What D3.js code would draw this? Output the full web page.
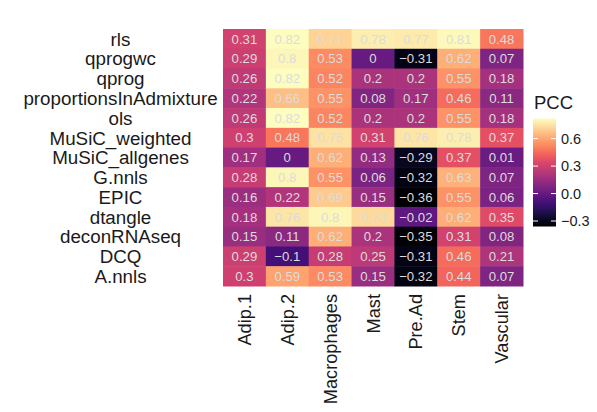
<!DOCTYPE html>
<html>
<head>
<meta charset="utf-8">
<script src="https://cdn.jsdelivr.net/npm/d3@7"></script>
<style>
  html, body { margin: 0; padding: 0; background: #fff; }
  svg { display: block; font-family: "Liberation Sans", Arial, Helvetica, sans-serif; }
</style>
</head>
<body>
<svg id="chart" width="597" height="412"></svg>
<script>
// Deconvolution methods (rows, top to bottom)
const methods = ["rls", "qprogwc", "qprog", "proportionsInAdmixture", "ols",
  "MuSiC_weighted", "MuSiC_allgenes", "G.nnls", "EPIC", "dtangle",
  "deconRNAseq", "DCQ", "A.nnls"];

// Cell types (columns)
const cellTypes = ["Adip.1", "Adip.2", "Macrophages", "Mast", "Pre.Ad", "Stem", "Vascular"];

// Pearson correlation per cell type, in method order
const adip1       = [0.31, 0.29, 0.26, 0.22, 0.26, 0.3, 0.17, 0.28, 0.16, 0.18, 0.15, 0.29, 0.3];
const adip2       = [0.82, 0.8, 0.82, 0.66, 0.82, 0.48, 0, 0.8, 0.22, 0.76, 0.11, -0.1, 0.59];
const macrophages = [0.71, 0.53, 0.52, 0.55, 0.52, 0.75, 0.62, 0.55, 0.69, 0.8, 0.62, 0.28, 0.53];
const mast        = [0.78, 0, 0.2, 0.08, 0.2, 0.31, 0.13, 0.06, 0.15, 0.73, 0.2, 0.25, 0.15];
const preAd       = [0.77, -0.31, 0.2, 0.17, 0.2, 0.76, -0.29, -0.32, -0.36, -0.02, -0.35, -0.31, -0.32];
const stem        = [0.81, 0.62, 0.55, 0.46, 0.55, 0.78, 0.37, 0.63, 0.55, 0.62, 0.31, 0.46, 0.44];
const vascular    = [0.48, 0.07, 0.18, 0.11, 0.18, 0.37, 0.01, 0.07, 0.06, 0.35, 0.08, 0.21, 0.07];

// Legend ticks
const legendTicks = [-0.3, 0.0, 0.3, 0.6];
const legendTitle = "PCC";

const series = [adip1, adip2, macrophages, mast, preAd, stem, vascular];

const cells = [];
cellTypes.forEach((ct, j) => {
  methods.forEach((m, i) => {
    cells.push({ method: m, cellType: ct, value: series[j][i] });
  });
});

const svg = d3.select("#chart");

// Panel geometry
const panel = { left: 223, right: 523, top: 29, bottom: 286 };

const x = d3.scaleBand().domain(cellTypes).range([panel.left, panel.right]).padding(0);
const y = d3.scaleBand().domain(methods).range([panel.top, panel.bottom]).padding(0);

const vmin = d3.min(cells, d => d.value);
const vmax = d3.max(cells, d => d.value);
const color = d3.scaleSequential(d3.interpolateMagma).domain([vmin, vmax]);

const fmt = v => String(v).replace("-", "\u2212");

// Tiles
svg.append("g").selectAll("rect")
  .data(cells)
  .join("rect")
  .attr("x", d => x(d.cellType))
  .attr("y", d => y(d.method))
  .attr("width", x.bandwidth() + 0.5)
  .attr("height", y.bandwidth() + 0.5)
  .attr("fill", d => color(d.value));

// Value labels
svg.append("g").selectAll("text")
  .data(cells)
  .join("text")
  .attr("x", d => x(d.cellType) + x.bandwidth() / 2)
  .attr("y", d => y(d.method) + y.bandwidth() / 2)
  .attr("dy", "0.36em")
  .attr("text-anchor", "middle")
  .attr("font-size", 13.2)
  .attr("fill", "#dcdcdc")
  .text(d => fmt(d.value));

// Row axis (method names, centred)
const yAxis = d3.axisLeft(y).tickSize(0).tickPadding(0);
const gy = svg.append("g").attr("transform", "translate(120.5,0)").call(yAxis);
gy.select(".domain").remove();
gy.selectAll("text")
  .attr("text-anchor", "middle")
  .attr("x", 0)
  .attr("dy", "0.36em")
  .attr("font-size", 18.8)
  .attr("font-family", null)
  .attr("fill", "#1a1a1a");

// Column axis (cell types, rotated)
const xAxis = d3.axisBottom(x).tickSize(0).tickPadding(0);
const gx = svg.append("g").attr("transform", `translate(0,${panel.bottom})`).call(xAxis);
gx.select(".domain").remove();
gx.selectAll("text")
  .attr("transform", "rotate(-90)")
  .attr("text-anchor", "end")
  .attr("x", -8)
  .attr("y", 0)
  .attr("dy", "0.36em")
  .attr("font-size", 18.2)
  .attr("font-family", null)
  .attr("fill", "#1a1a1a");

// Colour bar legend
const bar = { x: 533, w: 23, top: 118.5, bottom: 226.5 };
const ly = d3.scaleLinear().domain([vmin, vmax]).range([bar.bottom, bar.top]);

const defs = svg.append("defs");
const grad = defs.append("linearGradient")
  .attr("id", "pcc-grad")
  .attr("x1", 0).attr("y1", 1).attr("x2", 0).attr("y2", 0);
d3.range(0, 1.0001, 0.05).forEach(t => {
  grad.append("stop")
    .attr("offset", t)
    .attr("stop-color", color(vmin + t * (vmax - vmin)));
});

svg.append("rect")
  .attr("x", bar.x).attr("y", bar.top)
  .attr("width", bar.w).attr("height", bar.bottom - bar.top)
  .attr("fill", "url(#pcc-grad)");

const lg = svg.append("g");
lg.selectAll("line.l")
  .data(legendTicks)
  .join("line")
  .attr("class", "l")
  .attr("x1", bar.x).attr("x2", bar.x + 5)
  .attr("y1", d => ly(d)).attr("y2", d => ly(d))
  .attr("stroke", "#fff").attr("stroke-width", 1);
lg.selectAll("line.r")
  .data(legendTicks)
  .join("line")
  .attr("class", "r")
  .attr("x1", bar.x + bar.w - 5).attr("x2", bar.x + bar.w)
  .attr("y1", d => ly(d)).attr("y2", d => ly(d))
  .attr("stroke", "#fff").attr("stroke-width", 1);
lg.selectAll("text")
  .data(legendTicks)
  .join("text")
  .attr("x", bar.x + bar.w + 5)
  .attr("y", d => ly(d))
  .attr("dy", "0.36em")
  .attr("font-size", 14.5)
  .attr("fill", "#1a1a1a")
  .text(d => d3.format(".1f")(d).replace("-", "\u2212"));

svg.append("text")
  .attr("x", bar.x + 1)
  .attr("y", 108.5)
  .attr("font-size", 18.5)
  .attr("fill", "#1a1a1a")
  .text(legendTitle);
</script>
</body>
</html>
